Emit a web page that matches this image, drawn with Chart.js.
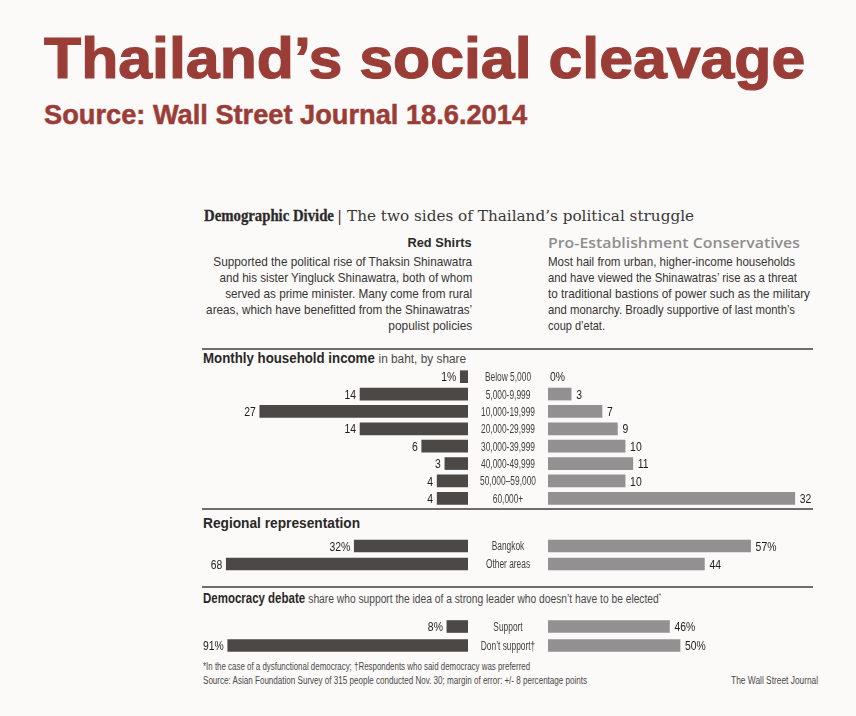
<!DOCTYPE html>
<html>
<head>
<meta charset="utf-8">
<script src="https://cdn.jsdelivr.net/npm/chart.js@4.4.1/dist/chart.umd.min.js"></script>
<style>
  body { margin: 0; background: #fbfaf9; }
  #page { position: relative; width: 856px; height: 716px; overflow: hidden; background: #fbfaf9; }
  .ln { position: absolute; white-space: nowrap; line-height: 1; transform-origin: 0 0; }
  .ln.r { transform-origin: 100% 0; text-align: right; }
  .narrow { font-family: "Liberation Sans", Arial, sans-serif; }
  .title { font-family: "Liberation Sans", Arial, sans-serif; font-weight: bold; color: #9b3d37; -webkit-text-stroke: 1.2px #9b3d37; }
  .body { font-size: 13.5px; color: #363433; }
  .sec { font-family: "Liberation Sans", Arial, sans-serif; font-weight: bold; font-size: 14px; color: #2a2827; }
  .sec span { font-weight: normal; font-size: 12.5px; color: #4a4847; }
  .rule { position: absolute; left: 202px; width: 611px; height: 2px; background: #6f6c6a; }
  .foot { font-size: 10px; color: #4a4847; }
  canvas { position: absolute; }
</style>
</head>
<body>
<div id="page">
  <div class="ln title" style="left:44px; top:29px; font-size:58px" data-w="761">Thailand’s social cleavage</div>
  <div class="ln title" style="left:44px; top:102px; font-size:27px; -webkit-text-stroke:0.5px #9b3d37" data-w="483">Source: Wall Street Journal 18.6.2014</div>

  <div class="ln" style="left:204px; top:206px; font:bold 17px 'Liberation Serif', serif; color:#2c2a29; -webkit-text-stroke:0.3px #2c2a29" data-w="130">Demographic Divide</div>
  <div class="ln" style="left:337px; top:207px; font:15px 'DejaVu Serif Condensed', 'DejaVu Serif', serif; color:#3a3837" data-w="357">| The two sides of Thailand’s political struggle</div>

  <div class="ln r" style="right:384px; top:234.6px; font:bold 13.5px 'Liberation Sans', sans-serif; color:#2c2a29" data-w="64">Red Shirts</div>
  <div class="ln" style="left:548px; top:232.6px; font:600 14px 'Open Sans', sans-serif; color:#8e8d8c" data-w="252">Pro-Establishment Conservatives</div>

  <div class="ln r narrow body" style="right:384px; top:255px" data-w="259">Supported the political rise of Thaksin Shinawatra</div>
  <div class="ln r narrow body" style="right:384px; top:271px" data-w="253">and his sister Yingluck Shinawatra, both of whom</div>
  <div class="ln r narrow body" style="right:384px; top:287px" data-w="247">served as prime minister. Many come from rural</div>
  <div class="ln r narrow body" style="right:384px; top:303px" data-w="266">areas, which have benefitted from the Shinawatras’</div>
  <div class="ln r narrow body" style="right:384px; top:319px" data-w="84">populist policies</div>

  <div class="ln narrow body" style="left:548px; top:255px" data-w="247">Most hail from urban, higher-income households</div>
  <div class="ln narrow body" style="left:548px; top:271px" data-w="249">and have viewed the Shinawatras’ rise as a threat</div>
  <div class="ln narrow body" style="left:548px; top:287px" data-w="262">to traditional bastions of power such as the military</div>
  <div class="ln narrow body" style="left:548px; top:303px" data-w="247">and monarchy. Broadly supportive of last month’s</div>
  <div class="ln narrow body" style="left:548px; top:319px" data-w="57">coup d’etat.</div>

  <div class="rule" style="top:348px"></div>
  <div class="ln sec" style="left:203px; top:351.2px" data-w="263">Monthly household income <span>in baht, by share</span></div>
  <div class="rule" style="top:508px"></div>
  <div class="ln sec" style="left:203px; top:516.2px" data-w="157">Regional representation</div>
  <div class="rule" style="top:586px"></div>
  <div class="ln sec" style="left:203px; top:591.2px" data-w="458">Democracy debate <span>share who support the idea of a strong leader who doesn’t have to be elected<sup style="font-size:7px">*</sup></span></div>

  <div class="ln narrow foot" style="left:203px; top:661.5px" data-w="327">*In the case of a dysfunctional democracy; †Respondents who said democracy was preferred</div>
  <div class="ln narrow foot" style="left:203px; top:675.5px" data-w="384">Source: Asian Foundation Survey of 315 people conducted Nov. 30; margin of error: +/- 8 percentage points</div>
  <div class="ln r narrow foot" style="right:38px; top:675.5px" data-w="87">The Wall Street Journal</div>

  <canvas id="incomeLeft" width="273" height="139" style="left:195px; top:368px"></canvas>
  <canvas id="incomeRight" width="353" height="139" style="left:468px; top:368px"></canvas>
  <canvas id="regionLeft" width="273" height="36" style="left:195px; top:537px"></canvas>
  <canvas id="regionRight" width="353" height="36" style="left:468px; top:537px"></canvas>
  <canvas id="democracyLeft" width="273" height="38" style="left:195px; top:617px"></canvas>
  <canvas id="democracyRight" width="353" height="38" style="left:468px; top:617px"></canvas>
</div>

<script>
// values (share of respondents, %)
const incomeCats = ['Below 5,000', '5,000-9,999', '10,000-19,999', '20,000-29,999',
  '30,000-39,999', '40,000-49,999', '50,000–59,000', '60,000+'];
const incomeRedShirts = [1, 14, 27, 14, 6, 3, 4, 4];
const incomeConservatives = [0, 3, 7, 9, 10, 11, 10, 32];

const regionCats = ['Bangkok', 'Other areas'];
const regionRedShirts = [32, 68];
const regionConservatives = [57, 44];

const democracyCats = ['Support', 'Don’t support†'];
const democracyRedShirts = [8, 91];
const democracyConservatives = [46, 50];

const RED_BAR = '#4b4846';
const CONS_BAR = '#929090';
const FONT = '"Liberation Sans", Arial, sans-serif';

// stretch each text line to the width it has in the original
document.querySelectorAll('[data-w]').forEach(el => {
  const w = el.getBoundingClientRect().width;
  el.style.transform = 'scaleX(' + (+el.dataset.w / w).toFixed(3) + ')';
});

// no narrow font installed, so squeeze Liberation Sans sideways
function narrowText(ctx, txt, x, y, sx) {
  ctx.save();
  ctx.translate(x, y);
  ctx.scale(sx, 1);
  ctx.fillText(txt, 0, 0);
  ctx.restore();
}

// numbers at the end of every bar
const valueLabels = {
  id: 'valueLabels',
  afterDatasetsDraw(chart, args, opts) {
    const ctx = chart.ctx;
    const left = chart.options.scales.x.reverse;
    const values = chart.data.datasets[0].data;
    ctx.save();
    ctx.font = '13px ' + FONT;
    ctx.fillStyle = '#1f1d1c';
    ctx.textBaseline = 'middle';
    ctx.textAlign = left ? 'right' : 'left';
    chart.getDatasetMeta(0).data.forEach((bar, i) => {
      const txt = values[i] + (opts.pctAll || i === 0 ? '%' : '');
      narrowText(ctx, txt, left ? bar.x - 4 : bar.x + (values[i] ? 5 : 2), bar.y + 1, 0.8);
    });
    ctx.restore();
  }
};

// category names in the gap between the two sides
const middleLabels = {
  id: 'middleLabels',
  afterDraw(chart) {
    const y = chart.scales.y;
    if (!y.options.display) return;
    const ctx = chart.ctx;
    ctx.save();
    ctx.font = '12.5px ' + FONT;
    ctx.fillStyle = '#403e3d';
    ctx.textAlign = 'center';
    ctx.textBaseline = 'middle';
    chart.data.labels.forEach((lbl, i) => {
      narrowText(ctx, lbl, (y.left + y.right) / 2, y.getPixelForValue(i) + 1, 0.67);
    });
    ctx.restore();
  }
};

function sideChart(id, cats, values, max, side, pctAll) {
  const left = side === 'left';
  const color = left ? RED_BAR : CONS_BAR;
  return new Chart(document.getElementById(id), {
    type: 'bar',
    data: {
      labels: cats,
      datasets: [{
        data: values,
        // a zero share gets no sliver of a bar
        backgroundColor: ctx => (ctx.raw === 0 ? 'rgba(0,0,0,0)' : color),
        barThickness: 12,
        borderWidth: 0
      }]
    },
    options: {
      indexAxis: 'y',
      responsive: false,
      animation: false,
      layout: { padding: 0 },
      plugins: {
        legend: { display: false },
        tooltip: { enabled: false },
        valueLabels: { pctAll: pctAll }
      },
      scales: {
        x: { display: false, min: 0, max: max, reverse: left },
        y: left ? { display: false } : {
          display: true,
          grid: { display: false, drawTicks: false },
          border: { display: false },
          ticks: { display: false },
          afterFit(s) { s.width = 80; }
        }
      }
    },
    plugins: [valueLabels, middleLabels]
  });
}

sideChart('incomeLeft', incomeCats, incomeRedShirts, 35.4, 'left', false);
sideChart('incomeRight', incomeCats, incomeConservatives, 35.4, 'right', false);
sideChart('regionLeft', regionCats, regionRedShirts, 76.8, 'left', false);
sideChart('regionRight', regionCats, regionConservatives, 76.8, 'right', false);
sideChart('democracyLeft', democracyCats, democracyRedShirts, 103.4, 'left', true);
sideChart('democracyRight', democracyCats, democracyConservatives, 103.4, 'right', true);
</script>
</body>
</html>
